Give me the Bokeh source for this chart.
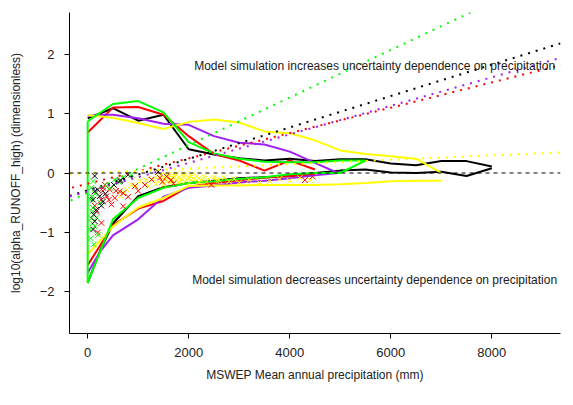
from bokeh.plotting import figure
from bokeh.models import Range1d, FixedTicker, Slope, Span, Label
from bokeh.embed import file_html
from bokeh.resources import INLINE

# ---------------- data ----------------
x_ticks = [0, 2000, 4000, 6000, 8000]
y_ticks = [-2, -1, 0, 1, 2]

black_up_x = [0, 500, 1000, 1500, 2000, 2500, 3000, 3500, 4000, 4500, 5000, 5500, 6000, 6500, 7000, 7500, 8000]
black_up_y = [0.92, 1.09, 0.88, 0.98, 0.40, 0.31, 0.25, 0.21, 0.24, 0.20, 0.23, 0.23, 0.16, 0.13, 0.20, 0.20, 0.11]
black_lo_x = [0, 250, 500, 1000, 1500, 2000, 2500, 3000, 3500, 4000, 4500, 5000, 5500, 6000, 6500, 7000, 7500, 8000]
black_lo_y = [-1.85, -1.30, -0.85, -0.39, -0.24, -0.17, -0.13, -0.09, -0.07, -0.05, 0.0, 0.04, 0.06, 0.01, 0.0, 0.02, -0.05, 0.08]

red_up_x = [0, 500, 1000, 1500, 2000, 2500, 3000, 3500, 4000, 4500]
red_up_y = [0.68, 1.10, 1.11, 0.98, 0.62, 0.32, 0.21, 0.04, 0.21, 0.06]
red_lo_x = [0, 500, 1000, 1500, 2000, 2500, 3000, 3500, 4000, 4500]
red_lo_y = [-1.55, -0.88, -0.60, -0.47, -0.23, -0.17, -0.12, -0.08, -0.05, -0.03]

green_up_x = [0, 500, 1000, 1500, 2000, 2500, 3000, 3500, 4000, 4500, 5000, 5500]
green_up_y = [0.87, 1.16, 1.21, 1.02, 0.52, 0.33, 0.24, 0.19, 0.18, 0.18, 0.21, 0.21]
green_lo_x = [0, 500, 1000, 1500, 2000, 2500, 3000, 3500, 4000, 4500, 5000, 5500]
green_lo_y = [-1.85, -0.78, -0.42, -0.25, -0.17, -0.14, -0.10, -0.07, -0.02, 0.0, 0.0, 0.21]

purple_up_x = [0, 250, 500, 1000, 1500, 2000, 2500, 3000, 3500, 4000, 4500, 4950]
purple_up_y = [0.96, 0.98, 0.98, 0.92, 0.83, 0.81, 0.62, 0.51, 0.48, 0.36, 0.17, 0.0]
purple_lo_x = [0, 250, 500, 1000, 1500, 2000, 2500, 3000, 3500, 4000, 4500, 4950]
purple_lo_y = [-1.68, -1.32, -1.05, -0.78, -0.40, -0.25, -0.21, -0.16, -0.13, -0.09, -0.04, 0.0]

yellow_up_x = [0, 250, 500, 1000, 1500, 2000, 2500, 3000, 3500, 4000, 4500, 5000, 5500, 6000, 6500, 7000]
yellow_up_y = [0.97, 0.95, 0.93, 0.84, 0.74, 0.86, 0.90, 0.85, 0.70, 0.67, 0.55, 0.38, 0.32, 0.28, 0.24, 0.0]
yellow_lo_x = [0, 500, 1000, 1500, 2000, 2500, 3000, 3500, 4000, 4500, 5000, 5500, 6000, 6500, 7000]
yellow_lo_y = [-1.37, -0.90, -0.58, -0.42, -0.22, -0.21, -0.21, -0.20, -0.20, -0.20, -0.19, -0.17, -0.14, -0.13, -0.13]

# regression (dotted) lines: slope, intercept
fit_colors = ["black", "red", "#00FF00", "#A020F0", "#FFFF00"]
fit_slopes = [2.64e-4, 2.13e-4, 4.0e-4, 2.4e-4, 3.7e-5]
fit_inters = [-0.29, -0.18, -0.33, -0.31, 0.0]

# scatter crosses
black_pts_x = [139, 139, 106, 139, 106, 304, 238, 801, 1397, 200, 170, 120, 350, 520, 650, 270, 640]
black_pts_y = [-0.05, -0.31, -0.45, -0.81, -0.95, -0.48, -0.39, -0.03, 0.02, -0.28, -0.62, -0.70, -0.35, -0.20, -0.12, -0.55, -0.14]

red_pts_x = [338, 371, 272, 437, 636, 536, 172, 272, 702, 934, 1132, 1265, 1430, 1564, 300, 420, 560,
             800, 1000, 1480, 1650, 1700, 2450, 4450, 4300, 140, 200, 470, 304, 702]
red_pts_y = [-0.20, -0.39, -0.45, -0.28, -0.31, -0.42, -0.65, -0.84, -0.56, -0.22, -0.20, -0.11, -0.08, -0.06, -0.30, -0.45, -0.30,
             -0.40, -0.30, -0.15, -0.12, -0.18, -0.20, -0.06, -0.12, -0.55, -1.00, -0.53, -0.25, -0.34]

green_pts_x = [106, 73, 106, 73, 139, 205, 371, 536, 702, 867, 60, 90, 150, 60, 120, 250, 450, 620, 40, 180, 100, 80]
green_pts_y = [-0.14, -0.25, -0.59, -0.76, -0.90, -1.04, -0.22, -0.11, -0.08, -0.03, -0.45, -0.65, -0.35, -1.10, -1.20, -0.50, -0.25, -0.15, -0.95, -0.75, -0.85, -0.40]

yellow_pts_x = [768, 867, 1033, 650, 720, 950, 1150, 1300, 1400, 1450, 1500, 1550, 1600, 1650, 1700, 1750, 1800, 1850,
                1900, 1950, 2000, 2050, 2100, 2150, 2200, 2250, 2300, 2400, 2500, 2600, 2700, 2800, 2900, 3000,
                3200, 3400, 3600, 3800, 4000, 4200, 4400, 1200, 1350, 1500, 1650, 1800, 2000, 2200, 1600, 1750,
                1900, 2050, 1450, 1550, 1700, 1850, 2350, 2550]
yellow_pts_y = [-0.28, -0.20, -0.14, -0.38, -0.33, -0.22, -0.12, -0.10, -0.06, -0.12, -0.08, -0.14, -0.06, -0.10, -0.04, -0.12, -0.07, -0.10,
                -0.05, -0.12, -0.08, -0.06, -0.11, -0.05, -0.09, -0.13, -0.06, -0.10, -0.07, -0.12, -0.08, -0.14, -0.10, -0.16,
                -0.12, -0.16, -0.14, -0.10, -0.13, -0.08, -0.12, -0.22, -0.18, -0.20, -0.16, -0.15, -0.16, -0.15, -0.02, -0.02,
                -0.01, -0.02, -0.03, -0.04, -0.08, -0.14, -0.15, -0.13]

label_up = "Model simulation increases uncertainty dependence on precipitation"
label_down = "Model simulation decreases uncertainty dependence on precipitation"
label_x = 5680
label_y = [1.8, -1.8]

# ---------------- figure ----------------
FONT = "Liberation Sans"
p = figure(width=565, height=397, x_range=Range1d(-360, 9360), y_range=Range1d(-2.7, 2.7),
           output_backend="svg", toolbar_location=None,
           min_border_left=69, min_border_right=5, min_border_top=12, min_border_bottom=64)
p.outline_line_color = None
p.xgrid.visible = False
p.ygrid.visible = False
p.background_fill_color = "white"
p.border_fill_color = "white"

for ax in (p.xaxis[0], p.yaxis[0]):
    ax.axis_line_color = "black"
    ax.axis_line_width = 1
    ax.major_tick_line_color = "black"
    ax.major_tick_in = 0
    ax.major_tick_out = 5
    ax.minor_tick_line_color = None
    ax.major_label_text_font = FONT
    ax.major_label_text_font_size = "13px"
    ax.major_label_text_color = "#222222"
    ax.axis_label_text_font = FONT
    ax.axis_label_text_font_size = "12px"
    ax.axis_label_text_font_style = "normal"
    ax.axis_label_text_color = "#222222"

p.xaxis[0].ticker = FixedTicker(ticks=x_ticks)
p.yaxis[0].ticker = FixedTicker(ticks=y_ticks)
p.xaxis[0].axis_label = "MSWEP Mean annual precipitation (mm)"
p.yaxis[0].axis_label = "log10(alpha_RUNOFF_high) (dimensionless)"
p.xaxis[0].major_label_standoff = 9
p.xaxis[0].axis_label_standoff = 8
p.yaxis[0].major_label_standoff = 10
p.yaxis[0].axis_label_standoff = 14
p.yaxis[0].major_label_orientation = "horizontal"

LW = 2
# upper / lower lines
p.line(black_up_x, black_up_y, line_color="black", line_width=LW)
p.line(black_lo_x, black_lo_y, line_color="black", line_width=LW)
p.line(red_up_x, red_up_y, line_color="red", line_width=LW)
p.line(red_lo_x, red_lo_y, line_color="red", line_width=LW)
p.line(purple_up_x, purple_up_y, line_color="#A020F0", line_width=LW)
p.line(purple_lo_x, purple_lo_y, line_color="#A020F0", line_width=LW)
p.line(yellow_up_x, yellow_up_y, line_color="#FFFF00", line_width=LW)
p.line(yellow_lo_x, yellow_lo_y, line_color="#FFFF00", line_width=LW)
p.line(green_up_x, green_up_y, line_color="#00FF00", line_width=LW)
p.line(green_lo_x, green_lo_y, line_color="#00FF00", line_width=LW)
p.segment(x0=[green_lo_x[0]], y0=[green_lo_y[0]], x1=[green_up_x[0]], y1=[green_up_y[0]],
          line_color="#00FF00", line_width=LW)

# crosses
MS = 8
p.scatter(yellow_pts_x, yellow_pts_y, marker="x", size=MS, line_color="#FFFF00", line_width=1)
p.scatter(red_pts_x, red_pts_y, marker="x", size=MS, line_color="red", line_width=1)
p.scatter(green_pts_x, green_pts_y, marker="x", size=MS, line_color="#00FF00", line_width=1)
p.scatter(black_pts_x, black_pts_y, marker="x", size=MS, line_color="black", line_width=1)

# dotted fits
for c, s, b in zip(fit_colors, fit_slopes, fit_inters):
    p.add_layout(Slope(gradient=s, y_intercept=b, line_color=c, line_width=2, line_dash="2 6"))

p.add_layout(Span(location=0, dimension="width", line_color="black", line_width=1, line_dash="4 4"))

for txt, yy in zip([label_up, label_down], label_y):
    p.add_layout(Label(x=label_x, y=yy, text=txt, text_align="center", text_baseline="middle",
                       text_font=FONT, text_font_size="12px", text_color="#1a1a1a"))

open("out.html", "w").write(file_html(p, INLINE))
